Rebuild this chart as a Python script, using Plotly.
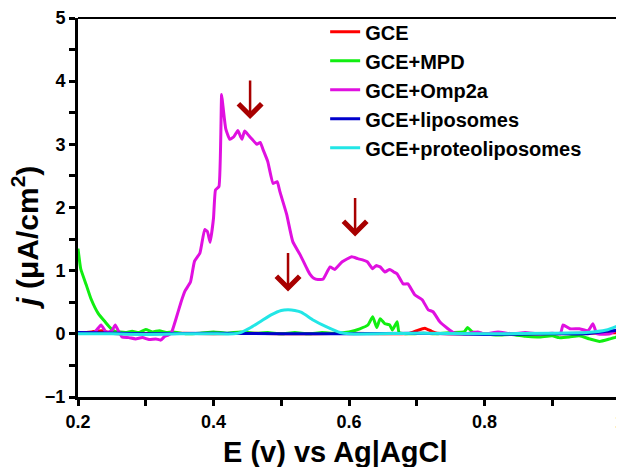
import plotly.graph_objects as go

# ---- data ----
omp_x = [0.20, 0.215, 0.225, 0.234, 0.242, 0.25, 0.255, 0.26, 0.265, 0.275, 0.285, 0.295, 0.305, 0.315,
         0.322, 0.328, 0.333, 0.338, 0.345, 0.352, 0.358, 0.366, 0.372, 0.38, 0.387, 0.391, 0.395, 0.40,
         0.403, 0.408, 0.412, 0.414, 0.418, 0.424, 0.430, 0.436, 0.440, 0.442, 0.446, 0.452, 0.457, 0.464,
         0.469, 0.473, 0.48, 0.488, 0.494, 0.498, 0.508, 0.517, 0.528, 0.538, 0.542, 0.548, 0.554, 0.562,
         0.572, 0.579, 0.59, 0.604, 0.613, 0.62, 0.627, 0.635, 0.64, 0.646, 0.653, 0.66, 0.666, 0.671,
         0.68, 0.687, 0.697, 0.708, 0.717, 0.724, 0.734, 0.746, 0.754, 0.77, 0.79, 0.80, 0.82, 0.84, 0.86,
         0.88, 0.90, 0.912, 0.916, 0.926, 0.94, 0.953, 0.96, 0.966, 0.985, 1.0]
omp_y = [0.02, 0.01, 0.03, 0.14, 0.02, 0.05, 0.14, 0.04, -0.05, -0.06, -0.08, -0.06, -0.09, -0.08,
         -0.10, -0.04, -0.02, 0.02, 0.25, 0.50, 0.68, 0.82, 1.15, 1.28, 1.65, 1.62, 1.45, 1.83,
         2.28, 2.33, 3.79, 3.60, 3.25, 3.08, 3.12, 3.22, 3.12, 3.08, 3.21, 3.14, 3.08, 3.00,
         3.03, 2.92, 2.73, 2.38, 2.41, 2.25, 1.89, 1.46, 1.25, 1.03, 0.95, 0.88, 0.86, 0.87,
         1.06, 1.02, 1.14, 1.22, 1.19, 1.17, 1.14, 1.03, 1.08, 1.06, 0.98, 1.02, 0.98, 0.95,
         0.79, 0.79, 0.62, 0.54, 0.38, 0.35, 0.19, 0.08, 0.02, 0.00, 0.03, 0.00, 0.03, 0.00, 0.02,
         0.00, 0.01, 0.00, 0.14, 0.08, 0.08, 0.05, 0.16, 0.00, 0.00, 0.10]

mpd_x = [0.2, 0.204, 0.212, 0.219, 0.23, 0.24, 0.249, 0.255, 0.27, 0.28, 0.29, 0.30, 0.31, 0.32, 0.33,
         0.34, 0.36, 0.38, 0.40, 0.42, 0.44, 0.46, 0.48, 0.50, 0.52, 0.54, 0.56, 0.58, 0.60, 0.616,
         0.628, 0.635, 0.641, 0.646, 0.653, 0.66, 0.664, 0.671, 0.674, 0.69, 0.71, 0.73, 0.75, 0.77,
         0.775, 0.782, 0.80, 0.82, 0.84, 0.86, 0.88, 0.90, 0.91, 0.925, 0.94, 0.955, 0.97, 0.985,
         0.995, 1.0]
mpd_y = [1.35, 1.03, 0.78, 0.56, 0.32, 0.19, 0.08, 0.04, 0.02, 0.04, 0.02, 0.07, 0.03, 0.05, 0.02,
         0.03, 0.00, 0.01, 0.03, 0.01, 0.03, 0.01, 0.02, 0.00, 0.02, 0.00, 0.02, 0.01, 0.03, 0.08,
         0.14, 0.27, 0.10, 0.24, 0.16, 0.14, 0.06, 0.19, 0.02, 0.00, 0.01, 0.00, 0.02, 0.03,
         0.10, 0.03, 0.00, -0.02, -0.01, -0.04, -0.05, -0.03, -0.06, -0.05, -0.03, -0.08, -0.12, -0.08,
         -0.05, 0.05]

gce_x = [0.2, 0.22, 0.235, 0.25, 0.3, 0.35, 0.4, 0.45, 0.5, 0.55, 0.6, 0.65, 0.69, 0.70, 0.712, 0.722,
         0.73, 0.8, 0.9, 1.0]
gce_y = [0.01, 0.03, 0.05, 0.01, 0.00, 0.01, 0.00, 0.01, 0.00, 0.00, 0.01, 0.00, 0.01, 0.05, 0.09, 0.04,
         0.01, 0.00, 0.00, 0.02]

lip_x = [0.2, 0.3, 0.4, 0.5, 0.6, 0.7, 0.8, 0.9, 0.95, 0.98, 1.0]
lip_y = [0.02, 0.00, 0.01, 0.00, 0.00, 0.01, -0.01, 0.00, 0.00, 0.04, 0.06]

prot_x = [0.2, 0.25, 0.3, 0.35, 0.40, 0.43, 0.44, 0.455, 0.47, 0.485, 0.50, 0.51, 0.52, 0.53, 0.547,
          0.567, 0.587, 0.6, 0.7, 0.8, 0.9, 0.95, 0.98, 1.0]
prot_y = [0.00, 0.00, -0.01, 0.00, 0.00, 0.00, 0.02, 0.10, 0.20, 0.30, 0.37, 0.38, 0.37, 0.34, 0.22,
          0.11, 0.02, 0.00, 0.01, 0.00, 0.01, 0.02, 0.06, 0.14]

arrow_x = [0.454, 0.609, 0.51]
arrow_y = [3.40, 1.54, 0.67]

x_title = "E (v) vs Ag|AgCl"
y_title = "<i>j</i> (μA/cm<sup>2</sup>)"

series = [
    ("GCE", gce_x, gce_y, "#ff0000"),
    ("GCE+MPD", mpd_x, mpd_y, "#11ee11"),
    ("GCE+Omp2a", omp_x, omp_y, "#e010e0"),
    ("GCE+liposomes", lip_x, lip_y, "#0000cc"),
    ("GCE+proteoliposomes", prot_x, prot_y, "#22e6e6"),
]

FONT = "Liberation Sans, Arial, sans-serif"

fig = go.Figure()
for name, xs, ys, col in series:
    fig.add_trace(go.Scatter(x=xs, y=ys, mode="lines", name=name,
                             line=dict(color=col, width=3, shape="spline", smoothing=0.4)))

for ax_, ay_ in zip(arrow_x, arrow_y):
    fig.add_annotation(x=ax_, y=ay_, ax=0, ay=-40, xref="x", yref="y", text="",
                       showarrow=True, arrowhead=4, arrowsize=1.8, arrowwidth=2.5,
                       arrowcolor="#a80000")

# axis titles as annotations (positioned like the reference)
fig.add_annotation(text=x_title, xref="paper", yref="paper", x=0.476, y=-0.145,
                   xanchor="center", yanchor="middle", showarrow=False,
                   font=dict(family=FONT, size=29, weight="bold", color="black"))
fig.add_annotation(text=y_title, xref="paper", yref="paper", x=-0.098, y=0.42,
                   xanchor="center", yanchor="middle", showarrow=False, textangle=-90,
                   font=dict(family=FONT, size=30, weight="bold", color="black"))

fig.add_shape(type="line", xref="paper", yref="paper", x0=0, x1=1, y0=1, y1=1,
              line=dict(color="black", width=2))
fig.add_shape(type="line", xref="paper", yref="paper", x0=1, x1=1, y0=0, y1=1,
              line=dict(color="black", width=2))

fig.update_layout(
    width=616, height=459,
    margin=dict(l=70, r=4, t=10, b=70, autoexpand=False),
    plot_bgcolor="white", paper_bgcolor="white",
    font=dict(family=FONT, color="black"),
    showlegend=True,
    legend=dict(x=0.456, y=1.015, xanchor="left", yanchor="top",
                font=dict(family=FONT, size=20, weight="bold", color="black"),
                bgcolor="rgba(0,0,0,0)", traceorder="normal"),
    xaxis=dict(range=[0.2, 1.0], dtick=0.2, showgrid=False, zeroline=False, automargin=False,
               showline=True, linewidth=3, linecolor="black", ticklabeloverflow="allow",
               ticks="outside", ticklen=6, tickwidth=2.5, tickcolor="black",
               minor=dict(dtick=0.1, ticks="outside", ticklen=6, tickwidth=2.5, tickcolor="black"),
               tickfont=dict(family=FONT, size=18, weight="bold")),
    yaxis=dict(range=[-1, 5], dtick=1, showgrid=False, zeroline=False, automargin=False,
               showline=True, linewidth=3, linecolor="black", ticklabeloverflow="allow",
               ticks="outside", ticklen=6, tickwidth=2.5, tickcolor="black",
               minor=dict(dtick=0.5, ticks="outside", ticklen=6, tickwidth=2.5, tickcolor="black"),
               tickfont=dict(family=FONT, size=18, weight="bold")),
)

fig.write_html("out.html")
